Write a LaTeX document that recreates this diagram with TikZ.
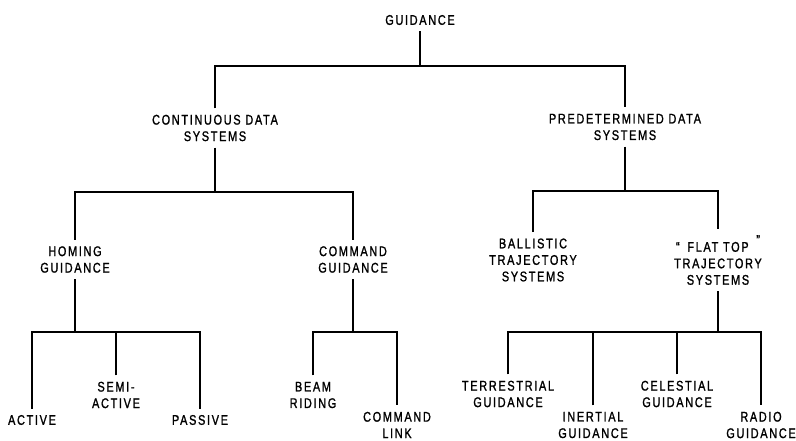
\documentclass[tikz,border=0pt]{standalone}
\usepackage{fontspec}
\setmainfont{Liberation Sans}[FakeStretch=0.78,LetterSpace=12,FakeBold=1.3]
\begin{document}
\begin{tikzpicture}[x=1pt,y=-1pt,
  lbl/.style={inner sep=0pt,outer sep=6.5pt,align=center,font=\fontsize{14}{16.5}\selectfont},
  conn/.style={line width=1.1pt}]
\useasboundingbox (0,0) rectangle (796,441);
% level 0
\node[lbl] (guid) at (420,20) {GUIDANCE};
% level 1
\node[lbl] (cont) at (215,128) {CONTINUOUS DATA\\SYSTEMS};
\node[lbl] (pred) at (625,127) {PREDETERMINED DATA\\SYSTEMS};
% level 2
\node[lbl] (homing) at (75,259.5) {HOMING\\GUIDANCE};
\node[lbl] (cmd) at (353,259.5) {COMMAND\\GUIDANCE};
\node[lbl] (ball) at (533,260) {BALLISTIC\\TRAJECTORY\\SYSTEMS};
\node[lbl] (flat) at (718,260) {“\hspace{3pt} FLAT TOP \hspace{3pt}\raisebox{7pt}{”}\\TRAJECTORY\\SYSTEMS};
% level 3
\node[lbl] (active) at (32,420) {ACTIVE};
\node[lbl] (semi) at (116,395) {SEMI-\\ACTIVE};
\node[lbl] (passive) at (200,420) {PASSIVE};
\node[lbl] (beam) at (313,395) {BEAM\\RIDING};
\node[lbl] (cmdlink) at (397,425) {COMMAND\\LINK};
\node[lbl] (terr) at (508,394) {TERRESTRIAL\\GUIDANCE};
\node[lbl] (inert) at (593,425) {INERTIAL\\GUIDANCE};
\node[lbl] (cel) at (677,394) {CELESTIAL\\GUIDANCE};
\node[lbl] (radio) at (761,425) {RADIO\\GUIDANCE};
% bus coordinates
\coordinate (b0) at (420,66);
\coordinate (b1) at (215,192);
\coordinate (b2) at (625,191);
\coordinate (b3) at (75,332);
\coordinate (b4) at (353,332);
\coordinate (b5) at (718,332);
% connectors
\draw[conn] (guid.south) -- (b0);
\draw[conn] (cont.north) |- (b0) -| (pred.north);
\draw[conn] (cont.south) -- (b1);
\draw[conn] (homing.north) |- (b1) -| (cmd.north);
\draw[conn] (pred.south) -- (b2);
\draw[conn] (ball.north) |- (b2) -| (flat.north);
\draw[conn] (homing.south) -- (b3);
\draw[conn] (active.north) |- (b3) -| (passive.north);
\draw[conn] (semi.north) -- (semi.north |- b3);
\draw[conn] (cmd.south) -- (b4);
\draw[conn] (beam.north) |- (b4) -| (cmdlink.north);
\draw[conn] (flat.south) -- (b5);
\draw[conn] (terr.north) |- (b5) -| (radio.north);
\draw[conn] (inert.north) -- (inert.north |- b5);
\draw[conn] (cel.north) -- (cel.north |- b5);
\end{tikzpicture}
\end{document}
